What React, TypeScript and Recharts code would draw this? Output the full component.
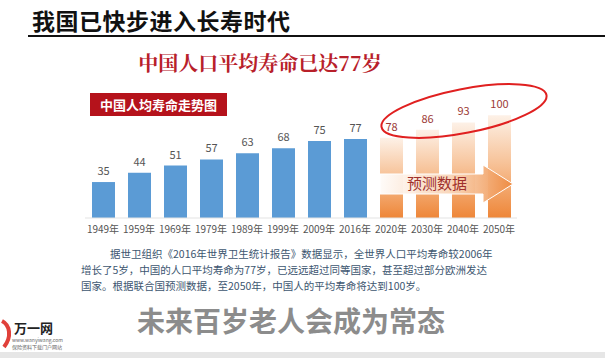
import { BarChart, Bar, XAxis, YAxis, Cell, LabelList } from 'recharts'

const years = ['1949', '1959', '1969', '1979', '1989', '1999', '2009', '2016', '2020', '2030', '2040', '2050']
const lifeExpectancy = [35, 44, 51, 57, 63, 68, 75, 77, 78, 86, 93, 100]
const forecastYears = ['2020', '2030', '2040', '2050']

const chartData = years.map((y, i) => ({
  name: `${y}年`,
  value: lifeExpectancy[i],
  forecast: forecastYears.includes(y),
}))

const CJK = '"Noto Sans CJK SC", "Noto Sans", sans-serif'

const renderValueLabel = (props: any) => {
  const { x, y, width, value, index } = props
  const isForecast = chartData[index]?.forecast
  return (
    <text
      x={x + width / 2}
      y={y - 7}
      textAnchor='middle'
      fontSize={11}
      fontFamily={CJK}
      fill={isForecast ? '#9c3a36' : '#555555'}
    >
      {value}
    </text>
  )
}

export default function App() {
  return (
    <div
      style={{
        position: 'fixed',
        left: 0,
        top: 0,
        width: 605,
        height: 358,
        background: '#ffffff',
        overflow: 'hidden',
        fontFamily: CJK,
      }}
    >
      {/* page heading */}
      <div
        style={{
          position: 'absolute',
          left: 32,
          top: 5,
          fontSize: 23,
          fontWeight: 700,
          color: '#111',
          letterSpacing: 0.5,
          lineHeight: '30px',
        }}
      >
        我国已快步进入长寿时代
      </div>
      <div style={{ position: 'absolute', left: 28, top: 35, width: 577, height: 2, background: '#111' }} />

      <div
        style={{
          position: 'absolute',
          left: 0,
          width: 520,
          top: 49,
          textAlign: 'center',
          fontSize: 20,
          fontWeight: 700,
          color: '#b8202a',
          fontFamily: '"Noto Serif CJK SC", "Noto Sans CJK SC", serif',
          lineHeight: '28px',
        }}
      >
        中国人口平均寿命已达77岁
      </div>

      <div
        style={{
          position: 'absolute',
          left: 90,
          top: 93,
          width: 137,
          height: 23,
          background: '#b5121b',
          color: '#fff',
          fontSize: 13,
          fontWeight: 700,
          lineHeight: '23px',
          textAlign: 'center',
        }}
      >
        中国人均寿命走势图
      </div>

      <div style={{ position: 'absolute', left: 0, top: 0 }}>
        <BarChart
          width={605}
          height={358}
          data={chartData}
          margin={{ top: 105, right: 88, bottom: 120, left: 85 }}
        >
          <defs>
            <linearGradient id='orangeGrad' x1='0' y1='0' x2='0' y2='1'>
              <stop offset='0%' stopColor='#fdf1e7' />
              <stop offset='45%' stopColor='#f7c49b' />
              <stop offset='100%' stopColor='#ee8638' />
            </linearGradient>
          </defs>
          <XAxis
            dataKey='name'
            height={20}
            tickLine={false}
            axisLine={{ stroke: '#e3e3e3' }}
            tick={{ fontSize: 10, fill: '#555', fontFamily: CJK }}
            interval={0}
          />
          <YAxis hide domain={[0, 110]} />
          <Bar dataKey='value' barSize={23} isAnimationActive={false}>
            {chartData.map((d, i) => (
              <Cell key={`cell-${i}`} fill={d.forecast ? 'url(#orangeGrad)' : '#5b9bd5'} />
            ))}
            <LabelList dataKey='value' content={renderValueLabel} />
          </Bar>
        </BarChart>
      </div>

      {/* forecast arrow + highlight ellipse */}
      <svg style={{ position: 'absolute', left: 0, top: 0 }} width={605} height={358}>
        <defs>
          <linearGradient id='arrowGrad' x1='0' y1='0' x2='1' y2='0'>
            <stop offset='0%' stopColor='#ffffff' stopOpacity={0.95} />
            <stop offset='60%' stopColor='#f8cfae' stopOpacity={0.95} />
            <stop offset='100%' stopColor='#ee8a40' stopOpacity={0.95} />
          </linearGradient>
        </defs>
        <path
          d='M380,174 L483,174 L483,165 L513,184 L483,203 L483,194 L380,194 Z'
          fill='url(#arrowGrad)'
          stroke='#ffffff'
          strokeWidth={1}
        />
        <text x={437} y={189} textAnchor='middle' fontSize={15} fill='#a0302c' fontFamily={CJK}>
          预测数据
        </text>
        <ellipse
          cx={464}
          cy={111}
          rx={84}
          ry={22}
          transform='rotate(-11 464 111)'
          fill='none'
          stroke='#e02020'
          strokeWidth={2}
        />
      </svg>

      <div
        style={{
          position: 'absolute',
          left: 81,
          top: 246,
          width: 420,
          fontSize: 10.5,
          lineHeight: '16px',
          color: '#3d5670',
        }}
      >
        <div style={{ paddingLeft: 29 }}>据世卫组织《2016年世界卫生统计报告》数据显示，全世界人口平均寿命较2006年</div>
        <div>增长了5岁，中国的人口平均寿命为77岁，已远远超过同等国家，甚至超过部分欧洲发达</div>
        <div>国家。根据联合国预测数据，至2050年，中国人的平均寿命将达到100岁。</div>
      </div>

      <div
        style={{
          position: 'absolute',
          left: 137,
          top: 303,
          fontSize: 28,
          fontWeight: 700,
          color: '#8c8c8c',
          lineHeight: '34px',
          whiteSpace: 'nowrap',
        }}
      >
        未来百岁老人会成为常态
      </div>

      {/* logo */}
      <svg style={{ position: 'absolute', left: 0, top: 315 }} width={14} height={36}>
        <path d='M2,6 C10,10 12,22 4,32' fill='none' stroke='#e0403a' strokeWidth={4} />
      </svg>
      <div style={{ position: 'absolute', left: 14, top: 320, fontSize: 13, fontWeight: 700, color: '#222', lineHeight: '16px' }}>
        万一网
      </div>
      <div style={{ position: 'absolute', left: 12, top: 337, fontSize: 5, color: '#666', lineHeight: '6px', whiteSpace: 'nowrap' }}>
        www.wanyiwang.com
      </div>
      <div style={{ position: 'absolute', left: 12, top: 344, fontSize: 5, color: '#666', lineHeight: '6px', whiteSpace: 'nowrap' }}>
        保险资料下载门户网站
      </div>

      <div style={{ position: 'absolute', left: 0, top: 352, width: 605, height: 6, background: '#e6e6e6' }} />
    </div>
  )
}
